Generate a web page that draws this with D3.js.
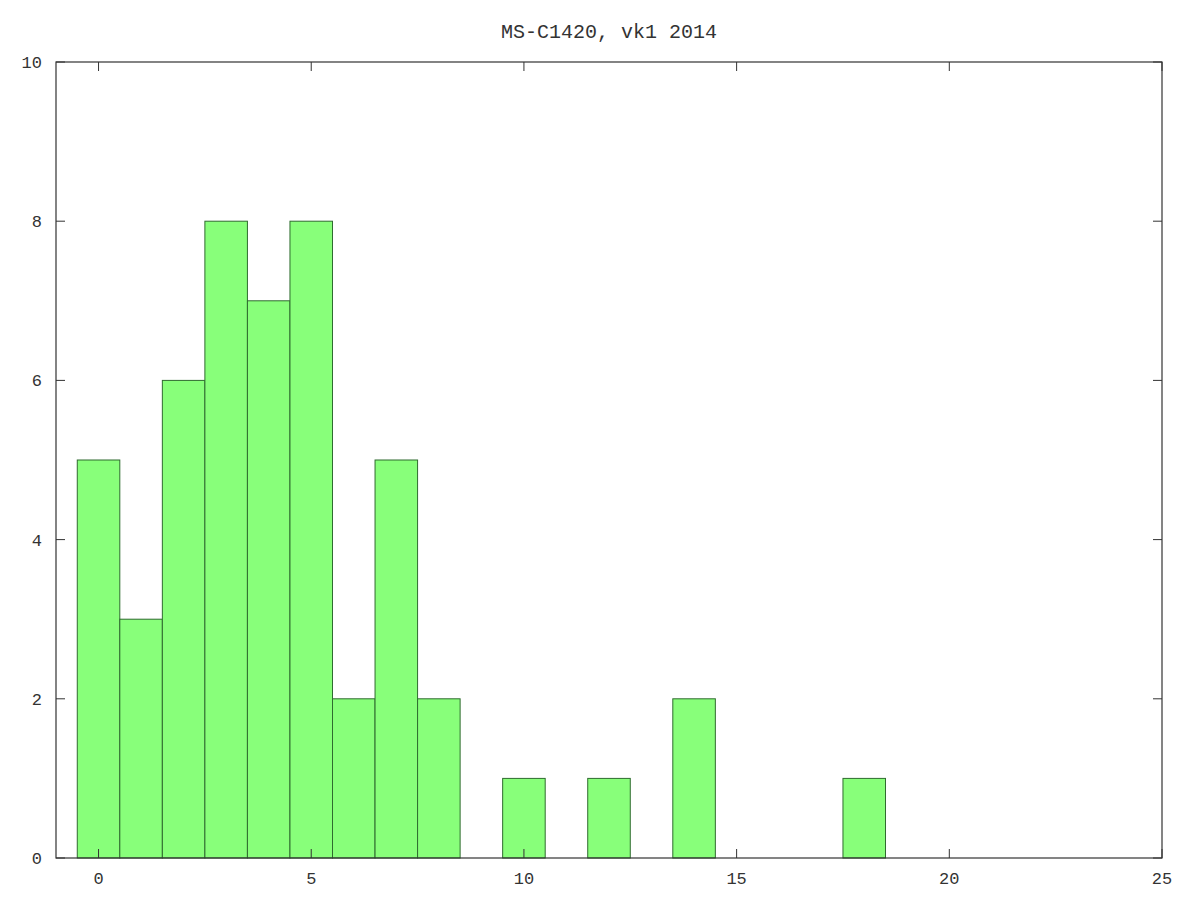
<!DOCTYPE html>
<html>
<head>
<meta charset="utf-8">
<script src="https://cdn.jsdelivr.net/npm/d3@7"></script>
<style>
  body { margin: 0; background: #fff; }
  text { font-family: "Liberation Mono", "DejaVu Sans Mono", monospace; fill: #333; }
</style>
</head>
<body>
<svg id="viz"></svg>
<script>
// histogram counts, one per integer bin 0..24
const bins = d3.range(0, 25);
const counts = [5, 3, 6, 8, 7, 8, 2, 5, 2, 0, 1, 0, 1, 0, 2, 0, 0, 0, 1, 0, 0, 0, 0, 0, 0];
const xTicks = [0, 5, 10, 15, 20, 25];
const yTicks = [0, 2, 4, 6, 8, 10];
const title = "MS-C1420, vk1 2014";

const width = 1200, height = 900;
const margin = {top: 62, right: 38, bottom: 42, left: 56};
const plotWidth = width - margin.left - margin.right;
const plotHeight = height - margin.top - margin.bottom;

const svg = d3.select("svg#viz").attr("width", width).attr("height", height);
const plot = svg.append("g").attr("transform", translate(margin.left, margin.top));

const x = d3.scaleLinear().domain([-1, 25]).range([0, plotWidth]);
const y = d3.scaleLinear().domain([0, 10]).range([plotHeight, 0]);

// bars
plot.append("g").selectAll("rect")
  .data(bins)
  .join("rect")
  .attr("x", d => x(d - 0.5))
  .attr("y", d => y(counts[d]))
  .attr("width", x(1) - x(0))
  .attr("height", d => y(0) - y(counts[d]))
  .attr("fill", "#88ff7a")
  .attr("stroke", "#2f6b2f")
  .attr("stroke-width", 1);

// frame
plot.append("rect")
  .attr("width", plotWidth).attr("height", plotHeight)
  .attr("fill", "none").attr("stroke", "#333").attr("stroke-width", 1.2);

const tickLen = 9;
// ticks, mirrored on all four sides
plot.append("g").selectAll("line.xb").data(xTicks).join("line")
  .attr("x1", d => x(d)).attr("x2", d => x(d))
  .attr("y1", plotHeight).attr("y2", plotHeight - tickLen)
  .attr("stroke", "#333");
plot.append("g").selectAll("line.xt").data(xTicks).join("line")
  .attr("x1", d => x(d)).attr("x2", d => x(d))
  .attr("y1", 0).attr("y2", tickLen)
  .attr("stroke", "#333");
plot.append("g").selectAll("line.yl").data(yTicks).join("line")
  .attr("x1", 0).attr("x2", tickLen)
  .attr("y1", d => y(d)).attr("y2", d => y(d))
  .attr("stroke", "#333");
plot.append("g").selectAll("line.yr").data(yTicks).join("line")
  .attr("x1", plotWidth).attr("x2", plotWidth - tickLen)
  .attr("y1", d => y(d)).attr("y2", d => y(d))
  .attr("stroke", "#333");

// tick labels
plot.append("g").selectAll("text").data(xTicks).join("text")
  .attr("x", d => x(d)).attr("y", plotHeight + 26)
  .attr("text-anchor", "middle")
  .attr("font-size", 17)
  .text(d => d);
plot.append("g").selectAll("text").data(yTicks).join("text")
  .attr("x", -14).attr("y", d => y(d) + 6)
  .attr("text-anchor", "end")
  .attr("font-size", 17)
  .text(d => d);

// title
svg.append("text")
  .attr("x", margin.left + plotWidth / 2).attr("y", 38)
  .attr("text-anchor", "middle")
  .attr("font-size", 20)
  .text(title);

function translate(a, b) { return "translate(" + a + "," + b + ")"; }
</script>
</body>
</html>
